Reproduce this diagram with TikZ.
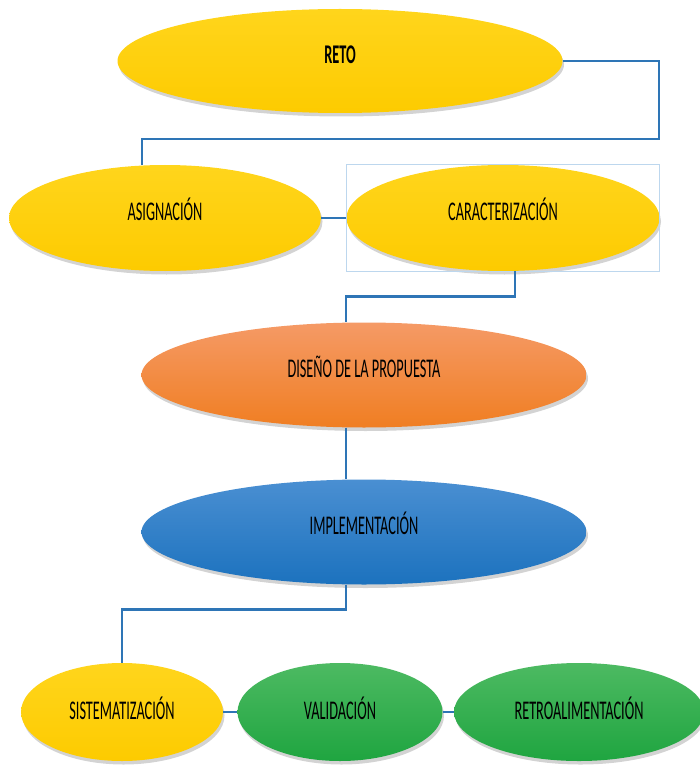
\documentclass[tikz,border=0pt]{standalone}
\usepackage{fontspec}
\setmainfont{Carlito}[FakeStretch=0.53]
\usetikzlibrary{shapes.geometric,shadows}

\definecolor{linkblue}{HTML}{2E75B6}
\definecolor{selblue}{HTML}{BDD7EE}
\definecolor{yelltop}{HTML}{FFD51C}
\definecolor{yellbot}{HTML}{FDCB00}
\definecolor{orantop}{HTML}{F59A66}
\definecolor{oranbot}{HTML}{F07E22}
\definecolor{bluetop}{HTML}{4A8FD2}
\definecolor{bluebot}{HTML}{1C72BE}
\definecolor{greentop}{HTML}{4DBA62}
\definecolor{greenbot}{HTML}{1FA540}

\tikzset{
    stage/.style={ellipse, inner sep=0pt, text=black,
        text height=15pt, text depth=10pt,
        font=\fontsize{27}{30}\selectfont,
        drop shadow={shadow xshift=1.5pt, shadow yshift=-3.5pt, opacity=0.35}},
    yellowstage/.style={stage, top color=yelltop, bottom color=yellbot},
    orangestage/.style={stage, top color=orantop, bottom color=oranbot},
    bluestage/.style={stage, top color=bluetop, bottom color=bluebot},
    greenstage/.style={stage, top color=greentop, bottom color=greenbot},
    lowrow/.style={text depth=0pt},
    link/.style={draw=linkblue, line width=2.8pt},
    selbox/.style={draw=selblue, line width=0.7pt}
}

\begin{document}
\begin{tikzpicture}[x=1pt, y=-1pt]
    \useasboundingbox (0,0) rectangle (699,767);

    \node[yellowstage, minimum width=445pt, minimum height=104pt, font=\fontsize{27}{30}\selectfont\bfseries] (reto) at (340,61) {RETO};
    \node[yellowstage, minimum width=312pt, minimum height=106pt] (asig) at (165,218) {ASIGNACIÓN};
    \node[yellowstage, minimum width=313pt, minimum height=106pt] (carac) at (503,218) {CARACTERIZACIÓN};
    \node[orangestage, minimum width=445pt, minimum height=105pt] (diseno) at (364,375) {DISEÑO DE LA PROPUESTA};
    \node[bluestage, minimum width=445pt, minimum height=105pt] (impl) at (364,532) {IMPLEMENTACIÓN};
    \node[yellowstage, lowrow, minimum width=202pt, minimum height=98pt] (sist) at (122,712) {SISTEMATIZACIÓN};
    \node[greenstage, lowrow, minimum width=205pt, minimum height=98pt] (valid) at (340,712) {VALIDACIÓN};
    \node[greenstage, lowrow, minimum width=250pt, minimum height=98pt] (retro) at (579,712) {RETROALIMENTACIÓN};

    \draw[selbox] (carac.west |- carac.north) rectangle (carac.east |- carac.south);

    \coordinate (turn) at (659,139);

    \draw[link] (reto.east) -| (turn) -| ([xshift=-23pt]asig.north);
    \draw[link] (asig.east) -- (carac.west);
    \draw[link] ([xshift=12pt]carac.south) -- ++(0,25) -| ([xshift=-18pt]diseno.north);
    \draw[link] ([xshift=-18pt]diseno.south) -- ([xshift=-18pt]impl.north);
    \draw[link] ([xshift=-18pt]impl.south) -- ++(0,25) -| (sist.north);
    \draw[link] (sist.east) -- (valid.west);
    \draw[link] (valid.east) -- (retro.west);
\end{tikzpicture}
\end{document}
